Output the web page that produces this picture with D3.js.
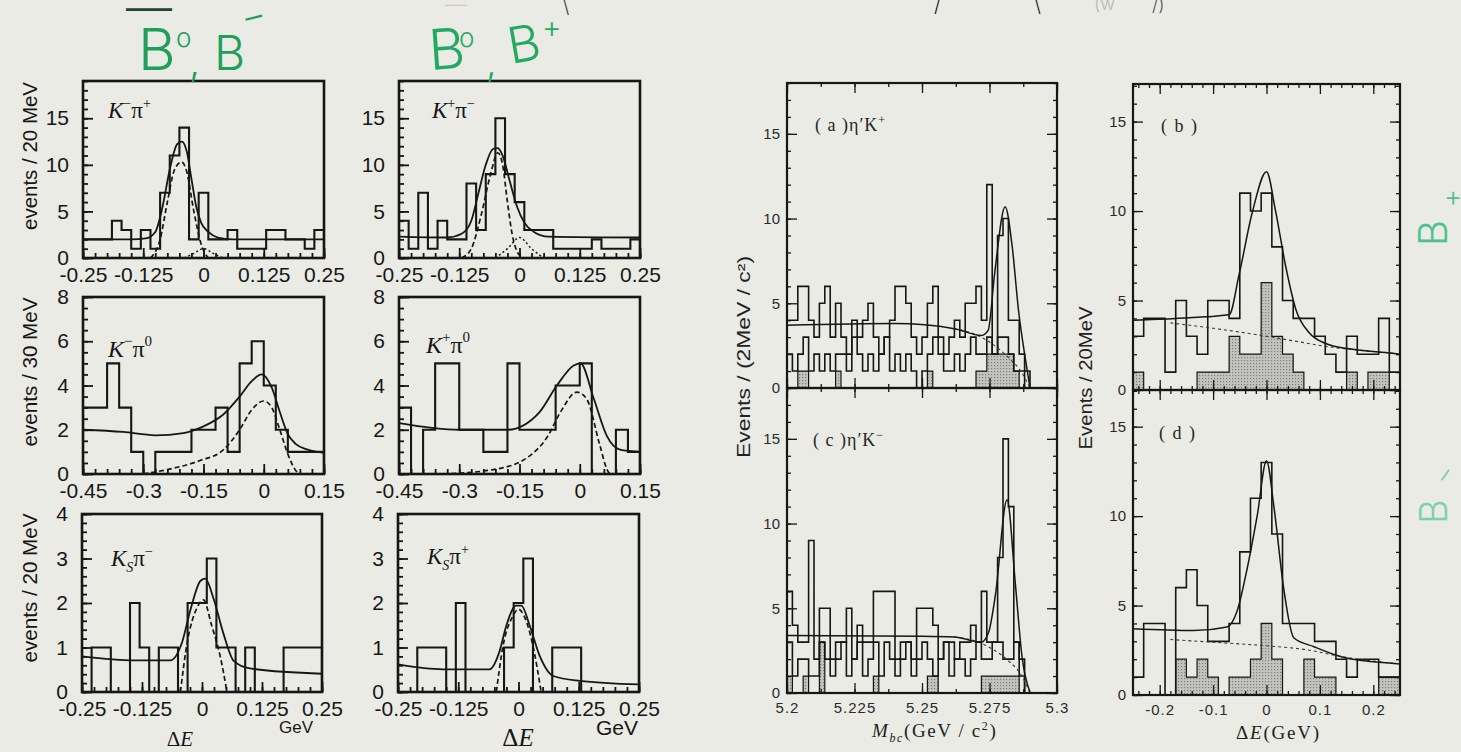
<!DOCTYPE html>
<html>
<head>
<meta charset="utf-8">
<script src="https://cdn.jsdelivr.net/npm/d3@7"></script>
<style>
  html, body { margin: 0; padding: 0; background: #eaebe5; }
  svg { display: block; }
</style>
</head>
<body>
<svg id="fig" width="1461" height="752"></svg>
<script>
// ---------- ΔE spectra for the Kπ modes (events per bin) ----------
// 20 MeV bins over [-0.25, 0.25] GeV
const kmPipBins = [2,2,2,4,3,1,3,1,7,11,14,2,7,2,2,3,1,1,1,3,3,2,2,1,3];
const kpPimBins = [4,1,7,1,4,2,2,8,3,9,15,9,6,3,3,3,1,1,1,1,2,1,1,1,2];
// 30 MeV bins over [-0.45, 0.15] GeV
const kmPi0Bins = [3,3,5,3,1,0,1,1,1,2,2,3,1,5,6,4,2,1,1,1];
const kpPi0Bins = [3,0,2,5,5,2,2,1,1,5,2,2,2,4,4,5,0,0,2,1];
// 20 MeV bins over [-0.25, 0.25] GeV
const ksPimBins = [0,1,1,0,0,2,1,0,1,1,0,2,2,3,1,1,0,1,0,0,0,1,1,1,1];
const ksPipBins = [0,0,1,1,1,0,2,0,0,0,0,1,2,3,0,0,1,1,1,0,0,0,0,0,0];

// fit curves, [ΔE (GeV), events]
const kmPipFit  = [[-0.25,2.0],[-0.15,2.0],[-0.12,2.1],[-0.1,2.8],[-0.085,5.5],[-0.07,9.5],[-0.055,12.2],[-0.045,12.5],[-0.035,11.5],[-0.025,8.5],[-0.015,5.5],[-0.005,3.8],[0.01,2.8],[0.03,2.2],[0.06,2.0],[0.25,2.0]];
const kmPipSig  = [[-0.11,0],[-0.09,2],[-0.075,6],[-0.06,9.5],[-0.045,10.3],[-0.035,9.3],[-0.02,5],[-0.005,1.5],[0.01,0]];
const kmPipFeed = [[-0.04,0],[-0.02,0.5],[0,1],[0.02,0.5],[0.04,0]];

const kpPimFit  = [[-0.25,2.3],[-0.15,2.2],[-0.12,2.6],[-0.1,4],[-0.085,7],[-0.07,10],[-0.055,11.7],[-0.045,11.8],[-0.035,11],[-0.02,8.2],[-0.005,5.5],[0.01,3.8],[0.03,2.8],[0.06,2.3],[0.25,2.2]];
const kpPimSig  = [[-0.12,0],[-0.1,1],[-0.08,4.5],[-0.06,9],[-0.045,11.3],[-0.035,10],[-0.025,6],[-0.015,2.5],[0,0.3],[0.01,0]];
const kpPimFeed = [[-0.05,0],[-0.025,1],[0,2.2],[0.025,1],[0.05,0]];

const kmPi0Fit = [[-0.45,2.0],[-0.35,1.9],[-0.27,1.75],[-0.2,1.85],[-0.15,2.15],[-0.1,2.7],[-0.06,3.5],[-0.03,4.2],[-0.005,4.5],[0.02,3.9],[0.04,2.8],[0.06,1.8],[0.08,1.35],[0.11,1.1],[0.15,0.95]];
const kmPi0Sig = [[-0.3,0],[-0.24,0.2],[-0.16,0.6],[-0.1,1.1],[-0.06,2],[-0.03,2.9],[0,3.3],[0.02,3.0],[0.04,2.0],[0.06,0.9],[0.08,0.15],[0.09,0]];

const kpPi0Fit = [[-0.45,2.3],[-0.3,2.0],[-0.18,2.0],[-0.1,2.8],[-0.057,4.0],[-0.015,4.9],[0.002,5.0],[0.035,3.4],[0.068,1.7],[0.1,1.1],[0.15,1.0]];
const kpPi0Sig = [[-0.34,0],[-0.215,0.2],[-0.13,0.75],[-0.08,1.7],[-0.048,2.8],[-0.007,3.7],[0.017,3.4],[0.05,1.3],[0.068,0.2],[0.075,0]];

const ksPimFit = [[-0.25,0.8],[-0.14,0.71],[-0.066,0.71],[-0.042,1.1],[-0.024,1.85],[-0.003,2.5],[0.007,2.55],[0.024,2.1],[0.045,1.3],[0.066,0.7],[0.1,0.53],[0.25,0.41]];
const ksPimSig = [[-0.045,0],[-0.031,1.1],[-0.01,1.9],[0.003,2.07],[0.02,1.5],[0.038,0.8],[0.052,0]];

const ksPipFit = [[-0.25,0.62],[-0.157,0.51],[-0.06,0.51],[-0.04,0.89],[-0.025,1.5],[-0.005,1.94],[0.006,1.94],[0.023,1.5],[0.044,0.81],[0.072,0.36],[0.127,0.25],[0.25,0.17]];
const ksPipSig = [[-0.046,0],[-0.032,1.04],[-0.012,1.7],[0,1.86],[0.012,1.7],[0.03,1.04],[0.047,0]];

// ---------- η′K: M_bc (2 MeV bins, 5.20–5.30 GeV) and ΔE (20 MeV bins) ----------
const etaKpMbcAll   = [4,4,6,6,4,3,5,6,3,5,3,2,4,3,4,5,3,2,3,4,6,6,5,3,2,3,5,6,3,2,3,4,3,5,5,6,4,12,2,9,10,4,4,2,1,0,0,0,0,0];
const etaKpMbcSide  = [2,1,2,3,1,2,1,2,1,2,2,1,3,2,1,2,1,2,3,1,2,1,2,1,0,1,2,3,2,1,1,2,1,2,3,2,2,3,2,3,3,2,1,1,0,0,0,0,0,0];
const etaKpMbcShade = [0,0,1,1,0,0,0,0,0,1,0,0,0,0,0,0,0,0,0,0,0,0,0,0,0,0,1,0,0,0,0,0,0,0,0,1,1,2,2,2,2,2,1,0,0,0,0,0,0,0];
const etaKmMbcAll   = [6,4,3,3,9,2,5,5,2,3,3,5,2,4,3,3,6,6,6,6,2,3,3,2,5,5,5,4,2,3,3,2,3,3,4,3,6,3,3,8,15,11,3,2,0,0,0,0,0,0];
const etaKmMbcSide  = [3,1,2,2,1,1,3,2,1,2,3,1,2,3,1,2,3,1,3,2,1,2,3,1,2,3,2,1,2,3,1,2,2,1,2,3,2,2,3,3,2,2,3,1,0,0,0,0,0,0];
const etaKmMbcShade = [1,0,0,1,0,0,3,0,0,0,0,0,0,0,0,0,1,0,0,0,0,0,0,0,0,0,1,1,0,0,0,0,0,0,0,0,1,1,1,1,1,1,1,0,0,0,0,0,0,0];

const etaKpDeAll   = [3,4,4,1,5,3,2,5,5,4,11,10,11,8,5,4,4,3,2,1,3,2,2,4,1];
const etaKpDeShade = [1,0,0,0,0,0,1,1,1,3,2,2,6,3,2,1,0,0,0,0,1,0,1,1,0];
const etaKmDeAll   = [1,4,4,0,6,7,5,3,3,4,8,11,13,9,4,4,4,3,3,2,1,2,2,1,1];
const etaKmDeShade = [0,0,0,0,2,1,2,1,0,1,1,2,4,2,0,0,2,1,1,0,0,0,0,1,1];

// fit curves: total and background
const etaKpMbcFit = [[5.2,3.7],[5.24,3.8],[5.262,3.5],[5.272,3.1],[5.2745,3.4],[5.277,6.9],[5.2808,10.7],[5.2833,8.5],[5.2858,4.5],[5.2883,1.7],[5.29,0]];
const etaKpMbcBkg = [[5.262,3.5],[5.27,3.15],[5.276,2.6],[5.282,1.8],[5.287,0.9],[5.29,0]];
const etaKmMbcFit = [[5.2,3.4],[5.25,3.35],[5.262,3.3],[5.272,3.0],[5.2747,3.6],[5.2772,5.8],[5.2815,11.4],[5.2846,6.4],[5.287,2.2],[5.2901,0]];
const etaKmMbcBkg = [[5.262,3.3],[5.27,3.05],[5.276,2.6],[5.282,1.9],[5.287,1.0],[5.29,0]];
const etaKpDeFit = [[-0.25,3.9],[-0.17,4.0],[-0.07,4.2],[-0.051,6.5],[-0.026,10],[0,12.2],[0.017,10],[0.036,6.9],[0.055,4.5],[0.08,3.2],[0.111,2.6],[0.155,2.3],[0.236,2.05],[0.25,2.0]];
const etaKpDeBkg = [[-0.18,3.75],[-0.1,3.45],[-0.02,3.1],[0.05,2.75],[0.12,2.4],[0.2,2.15],[0.24,2.05]];
const etaKmDeFit = [[-0.25,3.7],[-0.136,3.6],[-0.074,3.8],[-0.055,4.7],[-0.036,7.1],[-0.017,10.1],[0,13.1],[0.014,10.5],[0.032,6],[0.051,3.2],[0.089,2.7],[0.145,2.1],[0.239,1.76],[0.25,1.73]];
const etaKmDeBkg = [[-0.18,3.1],[-0.1,2.95],[0,2.75],[0.07,2.55],[0.15,2.1],[0.24,1.76]];

// ---------- tick labels ----------
const deLabelsNarrow = [-0.25, -0.125, 0, 0.125, 0.25];
const deLabelsWide   = [-0.45, -0.3, -0.15, 0, 0.15];
const mbcLabels      = [5.2, 5.225, 5.25, 5.275, 5.3];
const deLabelsEta    = [-0.2, -0.1, 0, 0.1, 0.2];
const yLabelsKpi  = [0, 5, 10, 15];
const yLabelsPi0  = [0, 2, 4, 6, 8];
const yLabelsKs   = [0, 1, 2, 3, 4];
const yLabelsEta  = [0, 5, 10, 15];

// ---------- drawing ----------
const svg = d3.select('#fig');
const ink = '#161616';
const sansL = '"Liberation Sans", Arial, Helvetica, sans-serif';
const serif = '"Liberation Serif", "Times New Roman", serif';

const defs = svg.append('defs');
const pat = defs.append('pattern').attr('id', 'stipple')
  .attr('width', 3).attr('height', 3).attr('patternUnits', 'userSpaceOnUse');
pat.append('rect').attr('width', 3).attr('height', 3).attr('fill', '#c3c3bf');
pat.append('rect').attr('width', 1.2).attr('height', 1.2).attr('fill', '#7d7d7a');

const fmt = v => String(v);
// tick positions: every multiple of step that lies inside [a, b]
const range = (a, b, s) => d3.range(Math.ceil(a / s - 1e-6), Math.floor(b / s + 1e-6) + 1)
  .map(k => +(k * s).toFixed(6));

let clipId = 0;
function drawPanel(p) {
  const g = svg.append('g').attr('transform', `translate(${p.x},${p.y})`);
  const x = d3.scaleLinear().domain(p.xDomain).range([0, p.w]);
  const y = d3.scaleLinear().domain([0, p.yMax]).range([p.h, 0]);
  const id = 'clip' + (clipId++);
  defs.append('clipPath').attr('id', id).append('rect').attr('width', p.w).attr('height', p.h);
  const body = g.append('g').attr('clip-path', `url(#${id})`);

  const x0 = p.xDomain[0];
  const edgesOf = counts => counts.map((c, i) => [x0 + i * p.bin, c])
    .concat([[x0 + counts.length * p.bin, counts[counts.length - 1]]]);
  const outline = counts => [[x0, 0]].concat(edgesOf(counts)).concat([[x0 + counts.length * p.bin, 0]]);
  const stepLine = d3.line().curve(d3.curveStepAfter).x(d => x(d[0])).y(d => y(d[1]));

  // shaded histograms
  (p.shades || []).forEach(counts => {
    const area = d3.area().curve(d3.curveStepAfter)
      .x(d => x(d[0])).y0(y(0)).y1(d => y(d[1]));
    body.append('path').attr('d', area(edgesOf(counts)))
      .attr('fill', 'url(#stipple)').attr('stroke', 'none');
  });
  // open histograms
  (p.hists || []).forEach(counts => {
    body.append('path').attr('d', stepLine(outline(counts))).attr('fill', 'none')
      .attr('stroke', ink).attr('stroke-width', p.histWidth || 2);
  });
  // outlines of shaded histograms
  (p.shades || []).forEach(counts => {
    body.append('path').attr('d', stepLine(outline(counts))).attr('fill', 'none')
      .attr('stroke', ink).attr('stroke-width', 1.2);
  });
  // fitted curves
  (p.curves || []).forEach(c => {
    const line = d3.line().curve(d3.curveMonotoneX).x(d => x(d[0])).y(d => y(d[1]));
    body.append('path').attr('d', line(c.pts)).attr('fill', 'none')
      .attr('stroke', c.color || ink).attr('stroke-width', c.width || 1.7)
      .attr('stroke-dasharray', c.dash || null);
  });

  // ticks pointing into the frame
  const tickSet = (axisFn, scale, vals, len, tr) => {
    const a = axisFn(scale).tickValues(vals).tickSize(-len).tickFormat('');
    const t = g.append('g').attr('transform', tr).call(a);
    t.select('.domain').remove();
    t.selectAll('line').attr('stroke', ink).attr('stroke-width', p.tickWidth || 1.6);
  };
  const xMinor = range(p.xDomain[0], p.xDomain[1], p.xMinor);
  const xMajor = range(p.xDomain[0], p.xDomain[1], p.xMajor);
  const yMinor = range(0, p.yMax, p.yMinor);
  const yMajor = range(0, p.yMax, p.yMajor);
  tickSet(d3.axisBottom, x, xMinor, p.minorLen, `translate(0,${p.h})`);
  tickSet(d3.axisBottom, x, xMajor, p.majorLen, `translate(0,${p.h})`);
  tickSet(d3.axisLeft, y, yMinor, p.minorLen, 'translate(0,0)');
  tickSet(d3.axisLeft, y, yMajor, p.majorLen, 'translate(0,0)');
  if (p.allSides) {
    tickSet(d3.axisTop, x, xMinor, p.minorLen, 'translate(0,0)');
    tickSet(d3.axisTop, x, xMajor, p.majorLen, 'translate(0,0)');
    tickSet(d3.axisRight, y, yMinor, p.minorLen, `translate(${p.w},0)`);
    tickSet(d3.axisRight, y, yMajor, p.majorLen, `translate(${p.w},0)`);
  }

  // frame
  g.append('rect').attr('width', p.w).attr('height', p.h).attr('fill', 'none')
    .attr('stroke', ink).attr('stroke-width', p.frameWidth || 2.4);

  // tick labels
  if (p.yLabels) {
    const a = d3.axisLeft(y).tickValues(p.yLabels).tickSize(0).tickPadding(p.yPad).tickFormat(fmt);
    const t = g.append('g').call(a);
    t.select('.domain').remove();
    t.selectAll('text').attr('font-family', p.labelFont).attr('font-size', p.labelSize)
      .attr('fill', p.labelColor || ink);
  }
  if (p.xLabels) {
    const a = d3.axisBottom(x).tickValues(p.xLabels).tickSize(0).tickPadding(p.xPad).tickFormat(fmt);
    const t = g.append('g').attr('transform', `translate(0,${p.h})`).call(a);
    t.select('.domain').remove();
    t.selectAll('text').attr('font-family', p.labelFont).attr('font-size', p.labelSize)
      .attr('fill', p.labelColor || ink).attr('letter-spacing', p.labelSpacing || 0);
  }
}

const leftStyle = {
  labelFont: sansL, labelSize: 21, yPad: 14, xPad: 9, minorLen: 5, majorLen: 10,
  frameWidth: 2.6, histWidth: 2.1, tickWidth: 1.8
};
const rightStyle = {
  labelFont: sansL, labelSize: 15, labelColor: '#2a2a2a', labelSpacing: 1, yPad: 7, xPad: 9,
  minorLen: 4, majorLen: 10, frameWidth: 2.2, histWidth: 1.6, tickWidth: 1.3, allSides: true
};
const solid = pts => ({ pts, width: 1.8 });
const dashed = pts => ({ pts, width: 1.7, dash: '5,3' });
const dotted = pts => ({ pts, width: 1.5, dash: '2,2.5' });
const bkgLine = pts => ({ pts, width: 1.1, dash: '3,3', color: '#3a3a3a' });
const thin = pts => ({ pts, width: 1.5 });

const panels = [
  Object.assign({ x: 83, y: 81, w: 241, h: 177, xDomain: [-0.25, 0.25], yMax: 19, bin: 0.02,
    hists: [kmPipBins], curves: [solid(kmPipFit), dashed(kmPipSig), dotted(kmPipFeed)],
    xMinor: 0.025, xMajor: 0.125, yMinor: 1, yMajor: 5, yLabels: yLabelsKpi, xLabels: deLabelsNarrow }, leftStyle),
  Object.assign({ x: 399, y: 81, w: 241, h: 177, xDomain: [-0.25, 0.25], yMax: 19, bin: 0.02,
    hists: [kpPimBins], curves: [solid(kpPimFit), dashed(kpPimSig), dotted(kpPimFeed)],
    xMinor: 0.025, xMajor: 0.125, yMinor: 1, yMajor: 5, yLabels: yLabelsKpi, xLabels: deLabelsNarrow }, leftStyle),
  Object.assign({ x: 83, y: 297, w: 241, h: 177, xDomain: [-0.45, 0.15], yMax: 8, bin: 0.03,
    hists: [kmPi0Bins], curves: [solid(kmPi0Fit), dashed(kmPi0Sig)],
    xMinor: 0.03, xMajor: 0.15, yMinor: 0.5, yMajor: 2, yLabels: yLabelsPi0, xLabels: deLabelsWide }, leftStyle),
  Object.assign({ x: 399, y: 297, w: 241, h: 177, xDomain: [-0.45, 0.15], yMax: 8, bin: 0.03,
    hists: [kpPi0Bins], curves: [solid(kpPi0Fit), dashed(kpPi0Sig)],
    xMinor: 0.03, xMajor: 0.15, yMinor: 0.5, yMajor: 2, yLabels: yLabelsPi0, xLabels: deLabelsWide }, leftStyle),
  Object.assign({ x: 82, y: 514, w: 240, h: 178, xDomain: [-0.25, 0.25], yMax: 4, bin: 0.02,
    hists: [ksPimBins], curves: [solid(ksPimFit), dashed(ksPimSig)],
    xMinor: 0.025, xMajor: 0.125, yMinor: 0.2, yMajor: 1, yLabels: yLabelsKs, xLabels: deLabelsNarrow }, leftStyle),
  Object.assign({ x: 398, y: 514, w: 241, h: 178, xDomain: [-0.25, 0.25], yMax: 4, bin: 0.02,
    hists: [ksPipBins], curves: [solid(ksPipFit), dashed(ksPipSig)],
    xMinor: 0.025, xMajor: 0.125, yMinor: 0.2, yMajor: 1, yLabels: yLabelsKs, xLabels: deLabelsNarrow }, leftStyle),

  Object.assign({ x: 787, y: 83, w: 270, h: 305, xDomain: [5.2, 5.3], yMax: 18, bin: 0.002,
    shades: [etaKpMbcShade], hists: [etaKpMbcAll, etaKpMbcSide],
    curves: [bkgLine(etaKpMbcBkg), thin(etaKpMbcFit)],
    xMinor: 0.0125, xMajor: 0.025, yMinor: 1, yMajor: 5, yLabels: yLabelsEta }, rightStyle),
  Object.assign({ x: 787, y: 388, w: 270, h: 305, xDomain: [5.2, 5.3], yMax: 18, bin: 0.002,
    shades: [etaKmMbcShade], hists: [etaKmMbcAll, etaKmMbcSide],
    curves: [bkgLine(etaKmMbcBkg), thin(etaKmMbcFit)],
    xMinor: 0.0125, xMajor: 0.025, yMinor: 1, yMajor: 5, yLabels: yLabelsEta, xLabels: mbcLabels }, rightStyle),
  Object.assign({ x: 1133, y: 84, w: 267, h: 306, xDomain: [-0.25, 0.25], yMax: 17.1, bin: 0.02,
    shades: [etaKpDeShade], hists: [etaKpDeAll],
    curves: [bkgLine(etaKpDeBkg), thin(etaKpDeFit)],
    xMinor: 0.02, xMajor: 0.1, yMinor: 1, yMajor: 5, yLabels: yLabelsEta }, rightStyle),
  Object.assign({ x: 1133, y: 390, w: 267, h: 305, xDomain: [-0.25, 0.25], yMax: 17.05, bin: 0.02,
    shades: [etaKmDeShade], hists: [etaKmDeAll],
    curves: [bkgLine(etaKmDeBkg), thin(etaKmDeFit)],
    xMinor: 0.02, xMajor: 0.1, yMinor: 1, yMajor: 5, yLabels: yLabelsEta, xLabels: deLabelsEta }, rightStyle)
];
panels.forEach(drawPanel);

// ---------- text ----------
function txt(x, y, opts) {
  const t = svg.append('text').attr('x', x).attr('y', y)
    .attr('font-family', opts.font || sansL).attr('font-size', opts.size || 16)
    .attr('fill', opts.fill || ink);
  if (opts.anchor) t.attr('text-anchor', opts.anchor);
  if (opts.rotate) t.attr('transform', `rotate(${opts.rotate},${x},${y})`);
  if (opts.spacing) t.attr('letter-spacing', opts.spacing);
  if (opts.weight) t.attr('font-weight', opts.weight);
  if (opts.opacity) t.attr('opacity', opts.opacity);
  if (opts.len) t.attr('textLength', opts.len).attr('lengthAdjust', 'spacingAndGlyphs');
  (opts.parts || [{ s: opts.text }]).forEach(p => {
    const ts = t.append('tspan').text(p.s);
    if (p.italic) ts.attr('font-style', 'italic');
    if (p.size) ts.attr('font-size', p.size);
    if (p.dy) ts.attr('dy', p.dy);
    if (p.dx) ts.attr('dx', p.dx);
  });
  return t;
}

// y-axis titles, left block
txt(37, 156, { text: 'events / 20 MeV', size: 20, anchor: 'middle', rotate: -90, len: 148 });
txt(37, 372, { text: 'events / 30 MeV', size: 20, anchor: 'middle', rotate: -90, len: 149 });
txt(37, 588, { text: 'events / 20 MeV', size: 20, anchor: 'middle', rotate: -90, len: 149 });

// channel labels
txt(108, 118, { font: serif, size: 23, parts: [{ s: 'K', italic: true }, { s: '−', size: 14, dy: -10 }, { s: 'π', dy: 10 }, { s: '+', size: 14, dy: -10 }] });
txt(432, 118, { font: serif, size: 23, parts: [{ s: 'K', italic: true }, { s: '+', size: 14, dy: -10 }, { s: 'π', dy: 10 }, { s: '−', size: 14, dy: -10 }] });
txt(108, 357, { font: serif, size: 24, parts: [{ s: 'K', italic: true }, { s: '−', size: 15, dy: -11 }, { s: 'π', dy: 11 }, { s: '0', size: 15, dy: -11 }] });
txt(426, 353, { font: serif, size: 24, parts: [{ s: 'K', italic: true }, { s: '+', size: 15, dy: -11 }, { s: 'π', dy: 11 }, { s: '0', size: 15, dy: -11 }] });
txt(111, 566, { font: serif, size: 23, parts: [{ s: 'K', italic: true }, { s: 'S', italic: true, size: 14, dy: 6 }, { s: 'π', dy: -6 }, { s: '−', size: 14, dy: -10 }] });
txt(427, 564, { font: serif, size: 23, parts: [{ s: 'K', italic: true }, { s: 'S', italic: true, size: 14, dy: 6 }, { s: 'π', dy: -6 }, { s: '+', size: 14, dy: -10 }] });

// unit and axis titles below the bottom row
txt(296, 733, { text: 'GeV', size: 17, anchor: 'middle' });
txt(617, 735, { text: 'GeV', size: 21, anchor: 'middle' });
txt(180, 746, { font: serif, size: 21, anchor: 'middle', parts: [{ s: 'Δ' }, { s: 'E', italic: true }] });
txt(518, 746, { font: serif, size: 25, anchor: 'middle', parts: [{ s: 'Δ' }, { s: 'E', italic: true }] });

// η′K panel labels
txt(815, 131, { font: serif, size: 18, fill: '#262626', spacing: 1, parts: [{ s: '( a )η′K' }, { s: '+', size: 12, dy: -7 }] });
txt(813, 446, { font: serif, size: 18, fill: '#262626', spacing: 1, parts: [{ s: '( c )η′K' }, { s: '−', size: 12, dy: -7 }] });
txt(1161, 132, { font: serif, size: 18, fill: '#262626', spacing: 1.5, text: '( b )' });
txt(1159, 439, { font: serif, size: 18, fill: '#262626', spacing: 1.5, text: '( d )' });

// η′K axis titles
txt(750, 357, { text: 'Events / (2MeV / c²)', size: 18, anchor: 'middle', rotate: -90, fill: '#222', len: 202 });
txt(1092, 378, { text: 'Events / 20MeV', size: 18, anchor: 'middle', rotate: -90, fill: '#222', len: 143 });
txt(872, 737, { font: serif, size: 19, fill: '#222', spacing: 1.6,
  parts: [{ s: 'M', italic: true }, { s: 'bc', italic: true, size: 12, dy: 5 }, { s: '(GeV / c', dy: -5 }, { s: '2', size: 12, dy: -7 }, { s: ')', dy: 7 }] });
txt(1236, 739, { font: serif, size: 19, fill: '#222', spacing: 1.8, parts: [{ s: 'Δ' }, { s: 'E', italic: true }, { s: '(GeV)' }] });

// handwritten notes
const hand = 'Inter, Lato, "Noto Sans", sans-serif';
const green = '#1f9f5a';
txt(126, 24, { font: hand, size: 46, fill: '#24432f', weight: 300, text: '—' });
txt(138, 70, { font: hand, size: 58, fill: green, weight: 300, text: 'B' });
txt(176, 47, { font: hand, size: 26, fill: green, weight: 300, text: 'o' });
txt(189, 76, { font: hand, size: 40, fill: green, weight: 300, text: ',' });
txt(214, 70, { font: hand, size: 48, fill: green, weight: 300, text: 'B' });
txt(248, 30, { font: hand, size: 34, fill: green, weight: 300, text: '–', rotate: -14 });

const green2 = '#23aa62';
txt(445, 12, { font: hand, size: 22, fill: '#d8c2c2', weight: 300, text: '—' });
txt(430, 70, { font: hand, size: 56, fill: green2, weight: 300, text: 'B', rotate: -4 });
txt(459, 47, { font: hand, size: 26, fill: green2, weight: 300, text: 'o' });
txt(486, 76, { font: hand, size: 38, fill: green2, weight: 300, text: ',' });
txt(511, 64, { font: hand, size: 50, fill: green2, weight: 300, text: 'B', rotate: -10 });
txt(542, 38, { font: hand, size: 30, fill: green2, weight: 300, text: '+' });
txt(563, 13, { font: hand, size: 18, fill: '#333', weight: 300, text: '\\' });

txt(1447, 246, { font: hand, size: 40, fill: '#35bb7c', weight: 300, text: 'B', rotate: -90, opacity: 0.85 });
txt(1444, 206, { font: hand, size: 28, fill: '#35bb7c', weight: 300, text: '+', opacity: 0.85 });
txt(1447, 524, { font: hand, size: 38, fill: '#54c9a0', weight: 300, text: 'B', rotate: -90, opacity: 0.75 });
txt(1448, 485, { font: hand, size: 26, fill: '#54c9a0', weight: 300, text: '–', rotate: -55, opacity: 0.8 });

// fragments of a cut-off note along the top edge
txt(934, 12, { font: hand, size: 20, fill: '#222', weight: 300, text: '/' });
txt(1034, 12, { font: hand, size: 20, fill: '#222', weight: 300, text: '\\' });
txt(1094, 10, { font: hand, size: 18, fill: '#b8b8b8', weight: 300, text: '(w' });
txt(1152, 11, { font: hand, size: 18, fill: '#555', weight: 300, text: '/)' });
</script>
</body>
</html>
